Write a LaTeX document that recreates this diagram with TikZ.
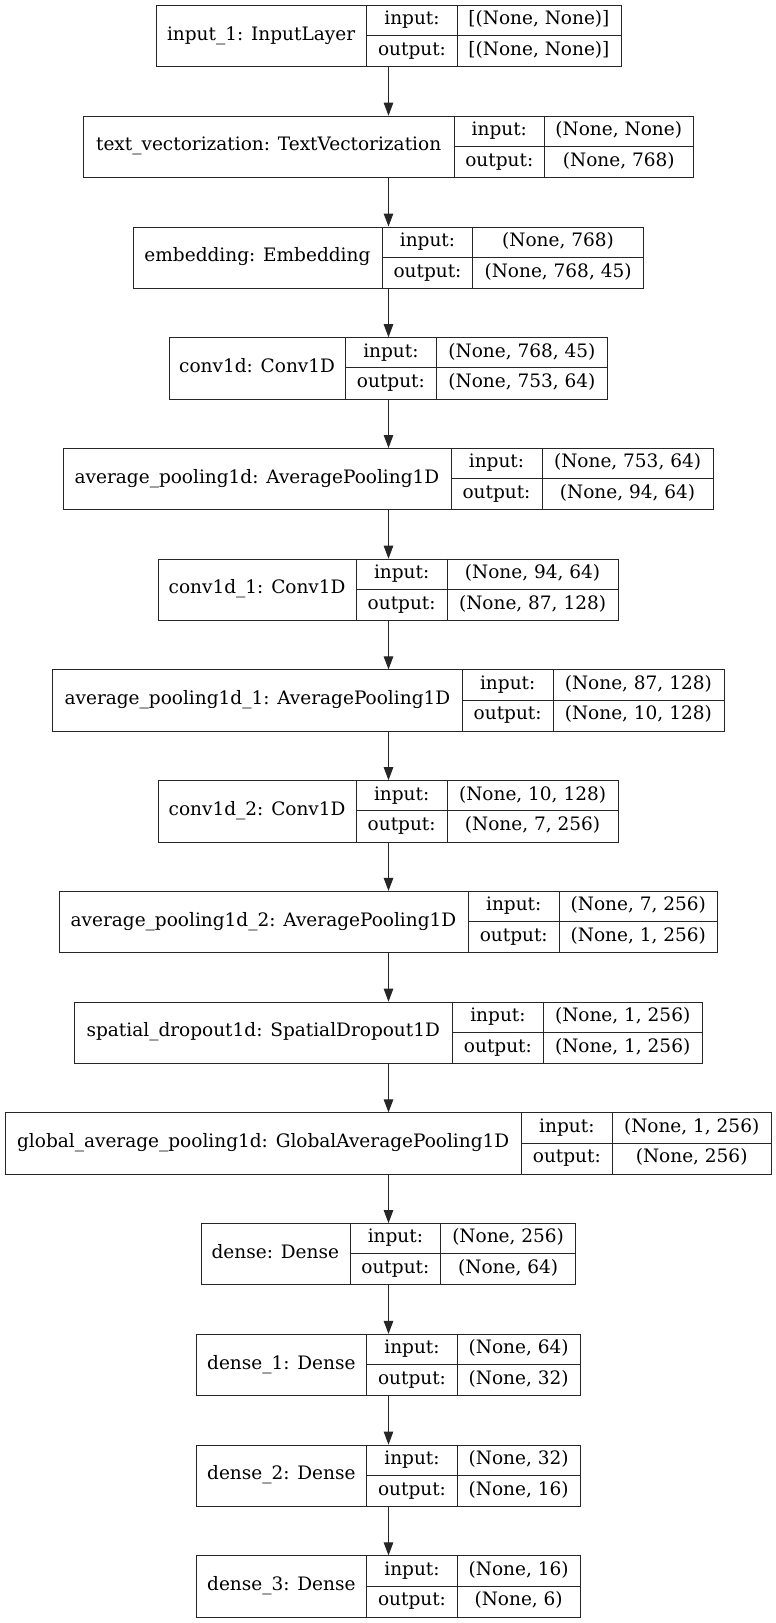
\documentclass[tikz,border=0pt]{standalone}
\usepackage{fontspec}
\setmainfont{DejaVu Serif}
\usetikzlibrary{arrows.meta}
\colorlet{ink}{black!85}
\tikzset{
  rec/.style={draw=ink, line width=1pt, inner sep=0pt, anchor=north west, minimum height=61.3pt},
  cell/.style={inner sep=0pt, font=\fontsize{18.5}{22}\selectfont, text height=13.5pt, text depth=4.5pt, anchor=center},
  rule/.style={draw=ink, line width=1pt},
  flow/.style={draw=ink, line width=1pt, -{Triangle[length=13pt, width=9.5pt]}}
}
% #1 name, #2 top, #3 left, #4 right, #5 div1, #6 div2, #7 label, #8 input, #9 output
\newcommand{\kerasLayer}[9]{%
  \node[rec, minimum width={(#4-#3)*1pt}] (#1) at (#3,#2) {};
  \coordinate (#1-a) at (#5,#2);
  \coordinate (#1-b) at (#6,#2);
  \draw[rule] (#1-a) -- ++(0,61.3);
  \draw[rule] (#1-b) -- ++(0,61.3);
  \draw[rule] (#5,{#2+30.65}) -- (#4,{#2+30.65});
  \node[cell] (#1-lab) at ({(#3+#5)/2},{#2+30.65}) {#7};
  \node[cell] (#1-in) at ({(#5+#6)/2},{#2+15.3}) {input:};
  \node[cell] (#1-out) at ({(#5+#6)/2},{#2+46}) {output:};
  \node[cell] (#1-inv) at ({(#6+#4)/2},{#2+15.3}) {#8};
  \node[cell] (#1-outv) at ({(#6+#4)/2},{#2+46}) {#9};
}
\begin{document}
\begin{tikzpicture}[x=1pt, y=-1pt]
\fill[white] (0,0) rectangle (776,1623);
\useasboundingbox (0,0) rectangle (776,1623);
\kerasLayer{l1}{5}{155.5}{620.5}{366.7}{457.3}{input\_1: InputLayer}{[(None, None)]}{[(None, None)]}
\kerasLayer{l2}{115.7}{83.2}{692.8}{454}{544.6}{text\_vectorization: TextVectorization}{(None, None)}{(None, 768)}
\kerasLayer{l3}{226.5}{132.7}{643.3}{382.2}{472.8}{embedding: Embedding}{(None, 768)}{(None, 768, 45)}
\kerasLayer{l4}{337.2}{168.7}{607.3}{345.5}{436.4}{conv1d: Conv1D}{(None, 768, 45)}{(None, 753, 64)}
\kerasLayer{l5}{448}{62.9}{713.1}{451}{542}{average\_pooling1d: AveragePooling1D}{(None, 753, 64)}{(None, 94, 64)}
\kerasLayer{l6}{558.7}{157.9}{618.1}{356.4}{447}{conv1d\_1: Conv1D}{(None, 94, 64)}{(None, 87, 128)}
\kerasLayer{l7}{669.4}{52.4}{723.6}{462.4}{553}{average\_pooling1d\_1: AveragePooling1D}{(None, 87, 128)}{(None, 10, 128)}
\kerasLayer{l8}{780.2}{157.9}{618.1}{356.4}{447}{conv1d\_2: Conv1D}{(None, 10, 128)}{(None, 7, 256)}
\kerasLayer{l9}{890.9}{58.6}{717.4}{468.3}{559.2}{average\_pooling1d\_2: AveragePooling1D}{(None, 7, 256)}{(None, 1, 256)}
\kerasLayer{l10}{1001.7}{74.1}{701.9}{452.5}{543.4}{spatial\_dropout1d: SpatialDropout1D}{(None, 1, 256)}{(None, 1, 256)}
\kerasLayer{l11}{1112.4}{5.1}{770.9}{521.3}{612.4}{global\_average\_pooling1d: GlobalAveragePooling1D}{(None, 1, 256)}{(None, 256)}
\kerasLayer{l12}{1223.1}{200.6}{575.4}{350}{440.8}{dense: Dense}{(None, 256)}{(None, 64)}
\kerasLayer{l13}{1333.9}{195.9}{580.1}{366.8}{457.2}{dense\_1: Dense}{(None, 64)}{(None, 32)}
\kerasLayer{l14}{1444.6}{195.9}{580.1}{366.8}{457.2}{dense\_2: Dense}{(None, 32)}{(None, 16)}
\kerasLayer{l15}{1555.4}{195.9}{580.1}{366.8}{457.2}{dense\_3: Dense}{(None, 16)}{(None, 6)}
\foreach \a/\b in {l1/l2,l2/l3,l3/l4,l4/l5,l5/l6,l6/l7,l7/l8,l8/l9,l9/l10,l10/l11,l11/l12,l12/l13,l13/l14,l14/l15}
  \draw[flow] (\a.south) -- (\b.north);
\end{tikzpicture}
\end{document}
